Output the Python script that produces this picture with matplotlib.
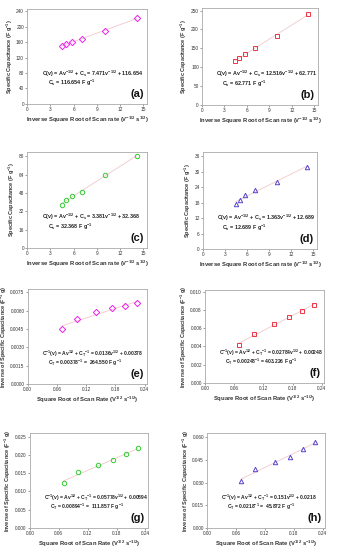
import matplotlib
matplotlib.use("Agg")
import matplotlib.pyplot as plt
import numpy as np

plt.rcParams['font.family'] = ['Liberation Sans', 'DejaVu Sans']
plt.rcParams['mathtext.default'] = 'regular'

# inverse square root of scan rate (V^-1/2 s^1/2) and square root (V^1/2 s^-1/2)
x_inv = [4.47, 5.00, 5.77, 7.07, 10.0, 14.14]
x_sqrt = [0.0707, 0.100, 0.141, 0.173, 0.200, 0.224]

cap_a = [150, 155, 160, 168, 188, 222]
cap_b = [117, 125, 135, 152, 183, 240]
cap_c = [38, 42, 45, 49, 64, 80]
cap_d = [17.5, 19.0, 21.0, 23.0, 26.0, 32.0]
inv_e = [0.0045, 0.0053, 0.0059, 0.0062, 0.0064, 0.0066]
inv_f = [0.0041, 0.0054, 0.0065, 0.0072, 0.0079, 0.0085]
inv_g = [0.0123, 0.0153, 0.0172, 0.0185, 0.0201, 0.0218]
inv_h = [0.031, 0.039, 0.044, 0.047, 0.052, 0.057]

eq_a = ["C(v) = Av$^{-1/2}$ + C$_s$ = 7.471v$^{-1/2}$ + 116.654", "C$_s$ = 116.654 F g$^{-1}$"]
eq_b = ["C(v) = Av$^{-1/2}$ + C$_s$ = 12.516v$^{-1/2}$ + 62.771", "C$_s$ = 62.771 F g$^{-1}$"]
eq_c = ["C(v) = Av$^{-1/2}$ + C$_s$ = 3.381v$^{-1/2}$ + 32.368", "C$_s$ = 32.368 F g$^{-1}$"]
eq_d = ["C(v) = Av$^{-1/2}$ + C$_s$ = 1.363v$^{-1/2}$ + 12.689", "C$_s$ = 12.689 F g$^{-1}$"]
eq_e = ["C$^{-1}$(v) = Av$^{1/2}$ + C$_T$$^{-1}$ = 0.0136v$^{1/2}$ + 0.00378", "C$_T$ = 0.00378$^{-1}$ =  264.550 F g$^{-1}$"]
eq_f = ["C$^{-1}$(v) = Av$^{1/2}$ + C$_T$$^{-1}$ = 0.02784v$^{1/2}$ + 0.00248", "C$_T$ = 0.00248$^{-1}$ = 403.226 F g$^{-1}$"]
eq_g = ["C$^{-1}$(v) = Av$^{1/2}$ + C$_T$$^{-1}$ = 0.05778v$^{1/2}$ + 0.00894", "C$_T$ = 0.00894$^{-1}$ =  111.857 F g$^{-1}$"]
eq_h = ["C$^{-1}$(v) = Av$^{1/2}$ + C$_T$$^{-1}$ = 0.151v$^{1/2}$ + 0.0218", "C$_T$ = 0.0218$^{-1}$ =  45.872 F g$^{-1}$"]

xlab1 = "Inverse Square Root of Scan rate (V$^{-1/2}$ s$^{1/2}$)"
ylab1 = "Specific Capacitance (F g$^{-1}$)"
xlab2 = "Square Root of Scan Rate (V$^{1/2}$ s$^{-1/2}$)"
ylab2 = "Inverse of Specific Capacitance (F$^{-1}$ g)"

panels = [
    # rect, x, y, marker, color, ylim, yticks, xlim, xticks, eq, label, xlab, ylab, yfmt
    ([0.080, 0.811, 0.354, 0.173], x_inv, cap_a, 'D', '#ee22ee', 246, np.arange(0, 241, 40), 15.5, np.arange(0, 16, 3), eq_a, '(a)', xlab1, ylab1, '%d'),
    ([0.596, 0.809, 0.342, 0.176], x_inv, cap_b, 's', '#ee3344', 256, np.arange(0, 251, 50), 15.5, np.arange(0, 16, 3), eq_b, '(b)', xlab1, ylab1, '%d'),
    ([0.080, 0.549, 0.354, 0.175], x_inv, cap_c, 'o', '#33cc33', 84, np.arange(0, 81, 16), 15.5, np.arange(0, 16, 3), eq_c, '(c)', xlab1, ylab1, '%d'),
    ([0.599, 0.547, 0.336, 0.176], x_inv, cap_d, '^', '#5544cc', 37.5, np.arange(0, 37, 6), 15.5, np.arange(0, 16, 3), eq_d, '(d)', xlab1, ylab1, '%d'),
    ([0.082, 0.302, 0.352, 0.173], x_sqrt, inv_e, 'D', '#ee22ee', 0.0078, np.arange(0, 0.0076, 0.0015), 0.245, np.arange(0, 0.25, 0.06), eq_e, '(e)', xlab2, ylab2, '%.4f'),
    ([0.605, 0.304, 0.351, 0.169], x_sqrt, inv_f, 's', '#ee3344', 0.0102, np.arange(0, 0.0101, 0.002), 0.245, np.arange(0, 0.25, 0.06), eq_f, '(f)', xlab2, ylab2, '%.3f'),
    ([0.088, 0.040, 0.348, 0.173], x_sqrt, inv_g, 'o', '#33cc33', 0.026, np.arange(0, 0.0251, 0.005), 0.245, np.arange(0, 0.25, 0.06), eq_g, '(g)', xlab2, ylab2, '%.3f'),
    ([0.611, 0.040, 0.348, 0.173], x_sqrt, inv_h, '^', '#5544cc', 0.063, np.arange(0, 0.061, 0.015), 0.245, np.arange(0, 0.25, 0.06), eq_h, '(h)', xlab2, ylab2, '%.3f'),
]

fig = plt.figure(figsize=(3.39, 5.50), dpi=100)

for rect, xs, ys, mk, col, ytop, yt, xtop, xt, eq, lab, xl, yl, yfmt in panels:
    ax = fig.add_axes(rect)
    k, b = np.polyfit(xs, ys, 1)
    xx = np.array([min(xs), max(xs)])
    ax.plot(xx, k * xx + b, color='#f0c8cc', lw=0.6, zorder=1)
    ax.plot(xs, ys, linestyle='none', marker=mk, ms=3.2, mfc='none', mec=col, mew=0.7, zorder=2)
    ax.set_xlim(0, xtop)
    ax.set_ylim(0, ytop)
    ax.set_xticks(xt)
    ax.set_yticks(yt)
    if xtop > 1:
        ax.set_xticklabels(['%d' % v for v in xt])
    else:
        ax.set_xticklabels(['%.2f' % v for v in xt])
    ax.set_yticklabels([yfmt % v for v in yt])
    ax.tick_params(labelsize=3.4, length=1.5, width=0.4, pad=0.8, colors='#555555', labelcolor='#333333')
    for s in ax.spines.values():
        s.set_color('#aaaaaa')
        s.set_linewidth(0.6)
    ax.set_xlabel(xl, fontsize=4.2, fontweight='bold', labelpad=2, color='#333333')
    ax.set_ylabel(yl, fontsize=4.0, fontweight='bold', labelpad=1, color='#333333')
    efs = 3.9 if xtop > 1 else 3.6
    ax.text(0.12, 0.30, eq[0], transform=ax.transAxes, fontsize=efs, fontweight='bold', color='#222222')
    ax.text(0.17, 0.20, eq[1], transform=ax.transAxes, fontsize=efs, fontweight='bold', color='#222222')
    ax.text(0.97, 0.05, lab, transform=ax.transAxes, fontsize=8, fontweight='bold', ha='right', va='bottom', color='#111111')

fig.savefig('out.png', dpi=100)
